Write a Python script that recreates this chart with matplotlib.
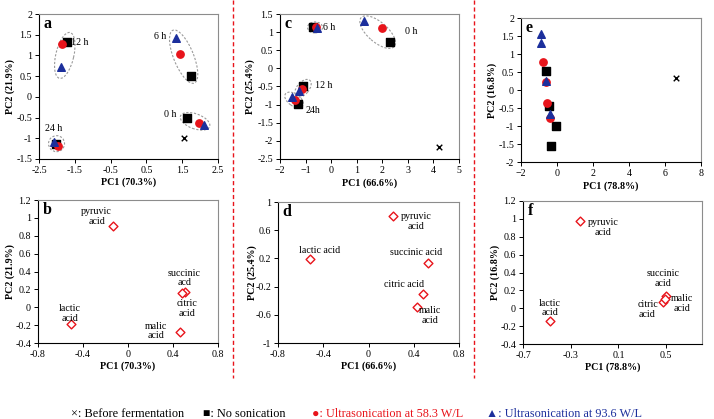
import numpy as np
import matplotlib
matplotlib.use("Agg")
import matplotlib.pyplot as plt
from matplotlib.patches import Ellipse
from matplotlib.lines import Line2D
from matplotlib.transforms import ScaledTranslation

plt.rcParams['font.family'] = ['Liberation Serif', 'DejaVu Sans']

# score plots: order 0 h, 6 h, 12 h, 24 h
a_black_x = [1.64, 1.75, -1.71, -2.02]
a_black_y = [-0.51, 0.51, 1.32, -1.13]
a_red_x = [1.96, 1.43, -1.87, -1.96]
a_red_y = [-0.63, 1.03, 1.28, -1.18]
a_blue_x = [2.12, 1.34, -1.89, -2.09]
a_blue_y = [-0.68, 1.41, 0.71, -1.08]
a_before = [1.55, -0.99]

c_black_x = [2.32, -0.70, -1.09, -1.31]
c_black_y = [0.73, 1.15, -0.50, -0.98]
c_red_x = [2.00, -0.60, -1.15, -1.41]
c_red_y = [1.10, 1.13, -0.56, -0.87]
c_blue_x = [1.29, -0.57, -1.26, -1.53]
c_blue_y = [1.32, 1.10, -0.62, -0.79]
c_before = [4.22, -2.16]

e_black_x = [-0.61, -0.46, -0.07, -0.31]
e_black_y = [0.54, -0.44, -1.00, -1.56]
e_red_x = [-0.76, -0.61, -0.54, -0.39]
e_red_y = [0.79, 0.21, -0.36, -0.77]
e_blue_x = [-0.89, -0.89, -0.59, -0.37]
e_blue_y = [1.56, 1.31, 0.26, -0.67]
e_before = [6.59, 0.33]

# loading plots: pyruvic, lactic, succinic, citric, malic
b_x = [-0.136, -0.508, 0.51, 0.484, 0.466]
b_y = [0.914, -0.19, 0.17, 0.155, -0.277]
b_names = ['pyruvic\nacid', 'lactic\nacid', 'succinic\nacd', 'citric\nacid', 'malic\nacid']

d_x = [0.216, -0.518, 0.524, 0.48, 0.43]
d_y = [0.806, 0.19, 0.135, -0.306, -0.487]
d_names = ['pyruvic\nacid', 'lactic acid', 'succinic acid', 'citric acid', 'malic\nacid']

f_x = [-0.223, -0.476, 0.50, 0.469, 0.49]
f_y = [0.978, -0.142, 0.141, 0.074, 0.108]
f_names = ['pyruvic\nacid', 'lactic\nacid', 'succinic\nacid', 'citric\nacid', 'malic\nacid']

RED = '#e8141b'
BLUE = '#1c2f9c'
W, H = 714, 419
FS = 7.2


def make_ax(l, r, t, b):
    ax = fig.add_axes([l / W, 1 - b / H, (r - l) / W, (b - t) / H])
    for s in ['top', 'right']:
        ax.spines[s].set_color('#8c8c8c')
    for s in ax.spines.values():
        s.set_linewidth(0.8)
    ax.tick_params(direction='out', length=3, width=0.7, labelsize=FS, pad=2)
    return ax


def labels(ax, xl, yl, xy, yx, letter):
    ax.set_xlabel(xl, fontsize=FS, fontweight='bold')
    ax.set_ylabel(yl, fontsize=FS, fontweight='bold')
    ax.xaxis.set_label_coords(0.5, xy)
    ax.yaxis.set_label_coords(yx, 0.5)
    ax.xaxis.label.set_va('center')
    ax.yaxis.label.set_va('center')
    ax.text(0.025, 0.985, letter, transform=ax.transAxes, va='top', ha='left',
            fontsize=11.5, fontweight='bold')


def ellipse(ax, cx, cy, w, h, ang):
    # size in pixels, centre in data units
    tr = fig.dpi_scale_trans + ScaledTranslation(cx, cy, ax.transData)
    ax.add_patch(Ellipse((0, 0), w / 100, h / 100, angle=ang, transform=tr,
                         fill=False, ec='#9a9a9a', ls=(0, (2, 1.5)), lw=0.8))


def scores(ax, bx, by, rx, ry, ux, uy, before):
    ax.scatter(bx, by, marker='s', s=26, c='black', zorder=3)
    ax.scatter(rx, ry, marker='o', s=28, c=RED, zorder=4)
    ax.scatter(ux, uy, marker='^', s=30, c=BLUE, zorder=5)
    ax.scatter([before[0]], [before[1]], marker='x', s=16, c='black', lw=1.0, zorder=3)


def loadings(ax, xs, ys, names, offs):
    ax.scatter(xs, ys, marker='D', s=20, facecolors='white', edgecolors=RED,
               linewidths=1.0, zorder=3)
    for x, y, n, (dx, dy) in zip(xs, ys, names, offs):
        ax.annotate(n, (x, y), xytext=(dx, dy), textcoords='offset pixels',
                    ha='center', va='center', fontsize=FS, linespacing=1.1)


fig = plt.figure(figsize=(W / 100, H / 100), dpi=100)

# panel a
ax = make_ax(39, 218, 14, 159)
scores(ax, a_black_x, a_black_y, a_red_x, a_red_y, a_blue_x, a_blue_y, a_before)
ax.set_xlim(-2.5, 2.5)
ax.set_ylim(-1.5, 2)
ax.set_xticks(np.arange(-2.5, 2.6, 1.0))
ax.set_xticklabels(['-2.5', '-1.5', '-0.5', '0.5', '1.5', '2.5'])
ax.set_yticks(np.arange(-1.5, 2.01, 0.5))
ax.set_yticklabels(['-1.5', '-1', '-0.5', '0', '0.5', '1', '1.5', '2'])
ellipse(ax, 1.86, -0.59, 31, 15, -20)
ellipse(ax, 1.54, 0.97, 57, 20, 112)
ellipse(ax, -1.78, 1.0, 47, 18, 77)
ellipse(ax, -2.01, -1.13, 16, 16, 0)
for t, x, y, ha in [('0 h', 1.34, -0.43, 'right'), ('6 h', 1.06, 1.45, 'right'),
                    ('12 h', -1.62, 1.32, 'left'), ('24 h', -2.08, -0.77, 'center')]:
    ax.text(x, y, t, ha=ha, va='center', fontsize=FS)
labels(ax, 'PC1 (70.3%)', 'PC2 (21.9%)', -0.159, -0.162, 'a')

# panel c
ax = make_ax(280, 459, 14, 159)
scores(ax, c_black_x, c_black_y, c_red_x, c_red_y, c_blue_x, c_blue_y, c_before)
ax.set_xlim(-2, 5)
ax.set_ylim(-2.5, 1.5)
ax.set_xticks(range(-2, 6))
ax.set_yticks(np.arange(-2.5, 1.51, 0.5))
ax.set_yticklabels(['-2.5', '-2', '-1.5', '-1', '-0.5', '0', '0.5', '1', '1.5'])
ellipse(ax, 1.82, 1.0, 44, 20, -41)
ellipse(ax, -0.63, 1.13, 15, 11, 0)
ellipse(ax, -1.10, -0.55, 21, 12, 50)
ellipse(ax, -1.45, -0.87, 21, 12, -35)
for t, x, y, ha in [('0 h', 2.88, 1.02, 'left'), ('6 h', -0.31, 1.12, 'left'),
                    ('12 h', -0.63, -0.47, 'left'), ('24h', -0.99, -1.17, 'left')]:
    ax.text(x, y, t, ha=ha, va='center', fontsize=FS)
labels(ax, 'PC1 (66.6%)', 'PC2 (25.4%)', -0.166, -0.168, 'c')

# panel e
ax = make_ax(521, 701, 18, 162)
scores(ax, e_black_x, e_black_y, e_red_x, e_red_y, e_blue_x, e_blue_y, e_before)
ax.set_xlim(-2, 8)
ax.set_ylim(-2, 2)
ax.set_xticks(range(-2, 9, 2))
ax.set_yticks(np.arange(-2, 2.01, 0.5))
ax.set_yticklabels(['-2', '-1.5', '-1', '-0.5', '0', '0.5', '1', '1.5', '2'])
labels(ax, 'PC1 (78.8%)', 'PC2 (16.8%)', -0.167, -0.161, 'e')

# panel b
ax = make_ax(38, 218, 200, 343)
loadings(ax, b_x, b_y, b_names,
         [(-16, 9), (-1, 11), (-1, 14), (5, -15), (-24, 1)])
ax.set_xlim(-0.8, 0.8)
ax.set_ylim(-0.4, 1.2)
ax.set_xticks([-0.8, -0.4, 0, 0.4, 0.8])
ax.set_xticklabels(['-0.8', '-0.4', '0', '0.4', '0.8'])
ax.set_yticks(np.arange(-0.4, 1.21, 0.2))
ax.set_yticklabels(['-0.4', '-0.2', '0', '0.2', '0.4', '0.6', '0.8', '1', '1.2'])
labels(ax, 'PC1 (70.3%)', 'PC2 (21.9%)', -0.161, -0.156, 'b')

# panel d
ax = make_ax(278, 459, 202, 343)
loadings(ax, d_x, d_y, d_names,
         [(23, -6), (10, 9), (-12, 10), (-19, 10), (13, -9)])
ax.set_xlim(-0.8, 0.8)
ax.set_ylim(-1, 1)
ax.set_xticks([-0.8, -0.4, 0, 0.4, 0.8])
ax.set_xticklabels(['-0.8', '-0.4', '0', '0.4', '0.8'])
ax.set_yticks([-1, -0.6, -0.2, 0.2, 0.6, 1])
ax.set_yticklabels(['-1', '-0.6', '-0.2', '0.2', '0.6', '1'])
labels(ax, 'PC1 (66.6%)', 'PC2 (25.4%)', -0.163, -0.144, 'd')

# panel f
ax = make_ax(523, 702, 201, 344)
loadings(ax, f_x, f_y, f_names,
         [(23, -7), (0, 13), (-3, 17), (-15, -8), (17, -5)])
ax.set_xlim(-0.7, 0.8)
ax.set_ylim(-0.4, 1.2)
ax.set_xticks([-0.7, -0.3, 0.1, 0.5])
ax.set_xticklabels(['-0.7', '-0.3', '0.1', '0.5'])
ax.set_yticks(np.arange(-0.4, 1.21, 0.2))
ax.set_yticklabels(['-0.4', '-0.2', '0', '0.2', '0.4', '0.6', '0.8', '1', '1.2'])
labels(ax, 'PC1 (78.8%)', 'PC2 (16.8%)', -0.16, -0.156, 'f')

# red dashed separators
for xp in [233, 474]:
    fig.add_artist(Line2D([xp / W, xp / W], [1.0, 1 - 378 / H], transform=fig.transFigure,
                          color=RED, ls=(0, (3, 2)), lw=1.0))

# legend text
yl = 1 - 414 / H
LF = 8.8
fig.text(71 / W, yl, '\u00d7: Before fermentation', fontsize=LF, va='center')
fig.text(203 / W, yl, '\u25a0: No sonication', fontsize=LF, va='center')
fig.text(312 / W, yl, '\u25cf: Ultrasonication at 58.3 W/L', fontsize=LF, va='center', color=RED)
fig.text(486 / W, yl, '\u25b2: Ultrasonication at 93.6 W/L', fontsize=LF, va='center', color=BLUE)

fig.savefig('out.png', dpi=100)
